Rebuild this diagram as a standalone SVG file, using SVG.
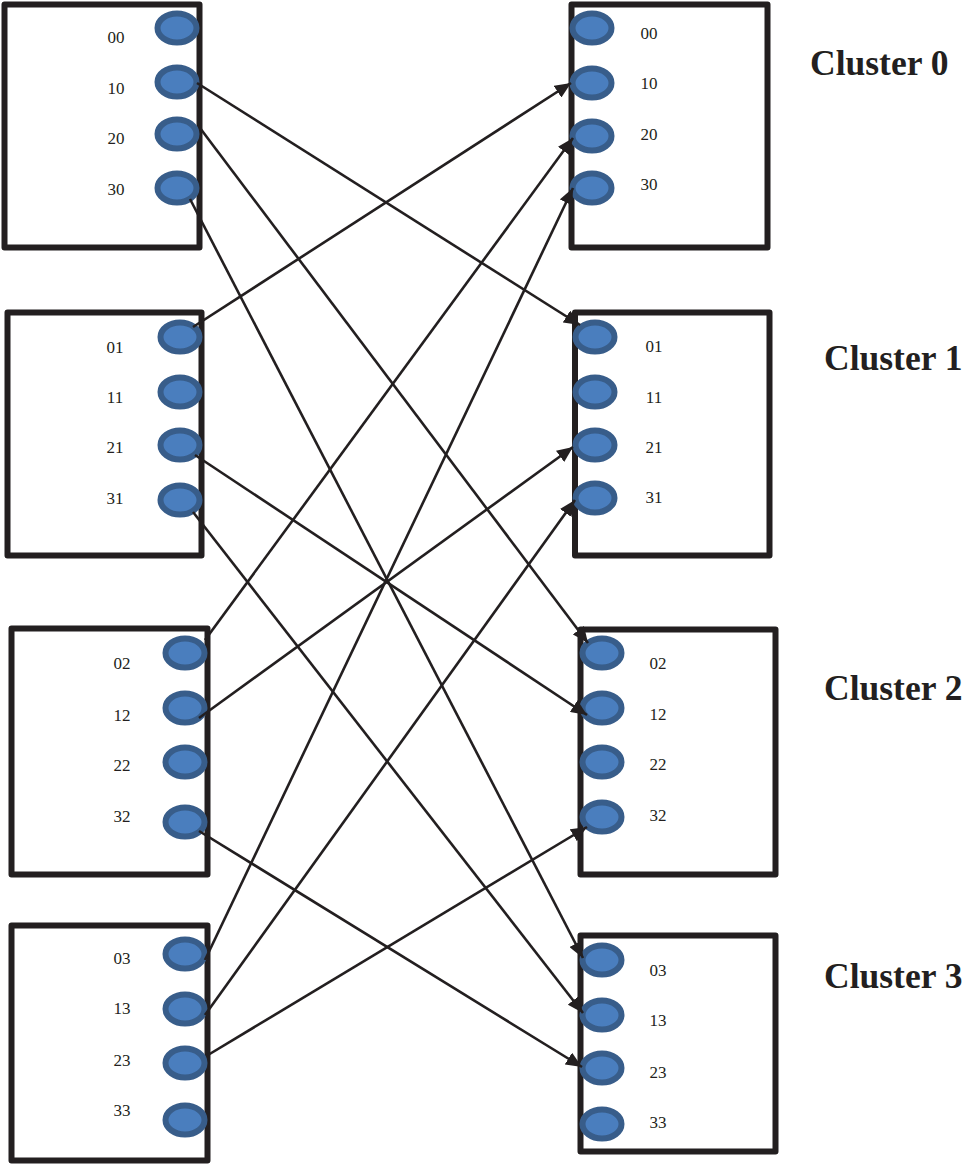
<svg xmlns="http://www.w3.org/2000/svg" width="966" height="1165" viewBox="0 0 966 1165">
<defs>
<style>
.box{fill:#fff;stroke:#231f20;stroke-width:6;stroke-linejoin:round}
.port{fill:#4a7ebe;stroke:#385d8a;stroke-width:6}
.lbl{font-family:"Liberation Serif",serif;font-size:17px;fill:#231f20;text-anchor:middle}
.cl{font-family:"Liberation Serif",serif;font-size:35.5px;font-weight:bold;fill:#231f20}
.conn line{stroke:#231f20;stroke-width:2.6;marker-end:url(#ah)}
</style>
<marker id="ah" markerUnits="userSpaceOnUse" markerWidth="17" markerHeight="14" refX="16" refY="7" orient="auto">
<path d="M0,0 L16,7 L0,14 z" fill="#231f20"/>
</marker>
</defs>
<rect width="966" height="1165" fill="#fff"/>

<g id="L0">
<rect class="box" x="4.5" y="4.5" width="195" height="243"/>
<ellipse class="port" cx="177" cy="28" rx="19.5" ry="14.5"/>
<ellipse class="port" cx="177" cy="82" rx="19.5" ry="14.5"/>
<ellipse class="port" cx="177" cy="134" rx="19.5" ry="14.5"/>
<ellipse class="port" cx="177" cy="188" rx="19.5" ry="14.5"/>
<text class="lbl" x="116" y="43">00</text>
<text class="lbl" x="116" y="94">10</text>
<text class="lbl" x="116" y="144">20</text>
<text class="lbl" x="116" y="195">30</text>
</g>
<g id="L1">
<rect class="box" x="7.5" y="312.5" width="194" height="243"/>
<ellipse class="port" cx="180" cy="337" rx="19.5" ry="14.5"/>
<ellipse class="port" cx="180" cy="392" rx="19.5" ry="14.5"/>
<ellipse class="port" cx="180" cy="445" rx="19.5" ry="14.5"/>
<ellipse class="port" cx="180" cy="500" rx="19.5" ry="14.5"/>
<text class="lbl" x="115" y="353">01</text>
<text class="lbl" x="115" y="403">11</text>
<text class="lbl" x="115" y="453">21</text>
<text class="lbl" x="115" y="504">31</text>
</g>
<g id="L2">
<rect class="box" x="11.5" y="628.5" width="196" height="246"/>
<ellipse class="port" cx="185" cy="653" rx="19.5" ry="14.5"/>
<ellipse class="port" cx="185" cy="708" rx="19.5" ry="14.5"/>
<ellipse class="port" cx="185" cy="762" rx="19.5" ry="14.5"/>
<ellipse class="port" cx="185" cy="822" rx="19.5" ry="14.5"/>
<text class="lbl" x="122" y="669">02</text>
<text class="lbl" x="122" y="721">12</text>
<text class="lbl" x="122" y="771">22</text>
<text class="lbl" x="122" y="822">32</text>
</g>
<g id="L3">
<rect class="box" x="11.5" y="925.5" width="196" height="235"/>
<ellipse class="port" cx="185" cy="954" rx="19.5" ry="14.5"/>
<ellipse class="port" cx="185" cy="1009" rx="19.5" ry="14.5"/>
<ellipse class="port" cx="185" cy="1063" rx="19.5" ry="14.5"/>
<ellipse class="port" cx="185" cy="1120" rx="19.5" ry="14.5"/>
<text class="lbl" x="122" y="964">03</text>
<text class="lbl" x="122" y="1014">13</text>
<text class="lbl" x="122" y="1066">23</text>
<text class="lbl" x="122" y="1116">33</text>
</g>

<g id="R0">
<rect class="box" x="571.5" y="4.5" width="196" height="243"/>
<ellipse class="port" cx="592" cy="28" rx="19.5" ry="14.5"/>
<ellipse class="port" cx="592" cy="83" rx="19.5" ry="14.5"/>
<ellipse class="port" cx="592" cy="136" rx="19.5" ry="14.5"/>
<ellipse class="port" cx="592" cy="188" rx="19.5" ry="14.5"/>
<text class="lbl" x="649" y="39">00</text>
<text class="lbl" x="649" y="89">10</text>
<text class="lbl" x="649" y="140">20</text>
<text class="lbl" x="649" y="190">30</text>
</g>
<g id="R1">
<rect class="box" x="575" y="312.5" width="194.5" height="243"/>
<ellipse class="port" cx="595" cy="337" rx="19.5" ry="14.5"/>
<ellipse class="port" cx="595" cy="392" rx="19.5" ry="14.5"/>
<ellipse class="port" cx="595" cy="445" rx="19.5" ry="14.5"/>
<ellipse class="port" cx="595" cy="498" rx="19.5" ry="14.5"/>
<text class="lbl" x="654" y="352">01</text>
<text class="lbl" x="654" y="403">11</text>
<text class="lbl" x="654" y="453">21</text>
<text class="lbl" x="654" y="503">31</text>
</g>
<g id="R2">
<rect class="box" x="580.5" y="629.5" width="195" height="245"/>
<ellipse class="port" cx="602" cy="653" rx="19.5" ry="14.5"/>
<ellipse class="port" cx="602" cy="708" rx="19.5" ry="14.5"/>
<ellipse class="port" cx="602" cy="762" rx="19.5" ry="14.5"/>
<ellipse class="port" cx="602" cy="817" rx="19.5" ry="14.5"/>
<text class="lbl" x="658" y="669">02</text>
<text class="lbl" x="658" y="720">12</text>
<text class="lbl" x="658" y="770">22</text>
<text class="lbl" x="658" y="821">32</text>
</g>
<g id="R3">
<rect class="box" x="580.5" y="935.5" width="195" height="216"/>
<ellipse class="port" cx="602" cy="960" rx="19.5" ry="14.5"/>
<ellipse class="port" cx="602" cy="1015" rx="19.5" ry="14.5"/>
<ellipse class="port" cx="602" cy="1068" rx="19.5" ry="14.5"/>
<ellipse class="port" cx="602" cy="1124" rx="19.5" ry="14.5"/>
<text class="lbl" x="658" y="976">03</text>
<text class="lbl" x="658" y="1026">13</text>
<text class="lbl" x="658" y="1078">23</text>
<text class="lbl" x="658" y="1128">33</text>
</g>

<g id="labels">
<text class="cl" x="810" y="75">Cluster 0</text>
<text class="cl" x="824" y="370">Cluster 1</text>
<text class="cl" x="824" y="700">Cluster 2</text>
<text class="cl" x="824" y="988">Cluster 3</text>
</g>

<g id="connectors" class="conn">
<line x1="197" y1="83" x2="580" y2="325"/>
<line x1="200" y1="128" x2="588" y2="643"/>
<line x1="190" y1="199" x2="583" y2="958"/>
<line x1="193" y1="327" x2="571" y2="83"/>
<line x1="195" y1="455" x2="587" y2="715"/>
<line x1="193" y1="512" x2="583" y2="1013"/>
<line x1="205" y1="640" x2="573" y2="138"/>
<line x1="199" y1="718" x2="573" y2="447"/>
<line x1="199" y1="831" x2="582" y2="1067"/>
<line x1="205" y1="960" x2="573" y2="188"/>
<line x1="205" y1="1015" x2="575" y2="500"/>
<line x1="208" y1="1055" x2="587" y2="827"/>
</g>
</svg>
